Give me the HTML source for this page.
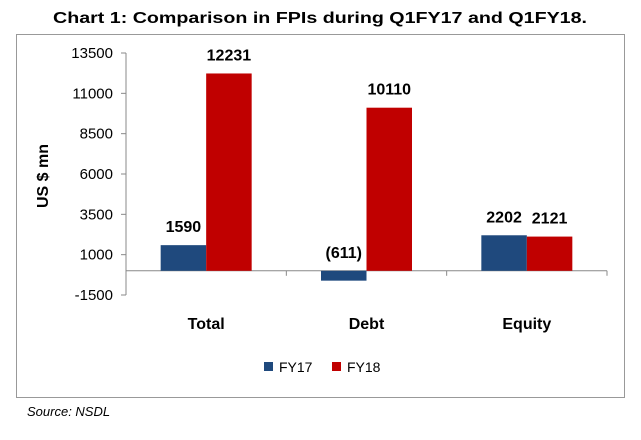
<!DOCTYPE html>
<html><head><meta charset="utf-8"><style>
body{margin:0;background:#fff;}
svg{display:block;font-family:"Liberation Sans",sans-serif;}
</style></head><body>
<svg id="chart" width="641" height="440" viewBox="0 0 641 440">
<text x="320" y="23" text-anchor="middle" font-size="16" font-weight="bold" textLength="534" lengthAdjust="spacingAndGlyphs" fill="#000">Chart 1: Comparison in FPIs during Q1FY17 and Q1FY18.</text>
<rect x="16.5" y="34.5" width="608" height="363" fill="none" stroke="#999" stroke-width="1"/>
<g id="axes"></g>
<g id="bars"></g>
<text transform="translate(48,176) rotate(-90)" text-anchor="middle" font-size="16" font-weight="bold">US $ mn</text>
<rect x="264" y="362" width="9" height="9" fill="#1f497d"/>
<text x="279" y="372" font-size="14">FY17</text>
<rect x="332" y="362" width="9" height="9" fill="#c00000"/>
<text x="347" y="372" font-size="14">FY18</text>
<text x="27" y="416" font-size="13" font-style="italic">Source: NSDL</text>
</svg>
<script>
const categories=["Total","Debt","Equity"];
const fy17=[1590,-611,2202];
const fy18=[12231,10110,2121];
const fy17Labels=["1590","(611)","2202"];
const fy18Labels=["12231","10110","2121"];
const yTicks=[13500,11000,8500,6000,3500,1000,-1500];
const NS="http://www.w3.org/2000/svg";
const x0=126,x1=607,yMin=-1500,yMax=13500,pyTop=53,pyBot=295;
function y(v){return pyBot-(v-yMin)/(yMax-yMin)*(pyBot-pyTop);}
const cw=(x1-x0)/categories.length;
function mk(tag,attrs,parent){const e=document.createElementNS(NS,tag);for(const k in attrs)e.setAttribute(k,attrs[k]);parent.appendChild(e);return e;}
const axes=document.getElementById('axes'),bars=document.getElementById('bars');
let a=mk('line',{x1:x0,y1:pyTop,x2:x0,y2:pyBot,stroke:'#888'},axes);


yTicks.forEach(t=>{
 let l=mk('line',{x1:x0-5,y1:y(t),x2:x0,y2:y(t),stroke:'#888'},axes);
 
 
 let tx=mk('text',{x:x0-13,y:y(t)+5,'text-anchor':'end','font-size':'15'},axes);
 tx.textContent=t;
 
 
});
let xa=mk('line',{x1:x0,y1:y(0),x2:x1,y2:y(0),stroke:'#888'},axes);


for(let i=0;i<=categories.length;i++){
 let l=mk('line',{x1:x0+i*cw,y1:y(0),x2:x0+i*cw,y2:y(0)+5,stroke:'#888'},axes);
 
 
}
const bw=45.5;
categories.forEach((c,i)=>{
 const cx=x0+cw*(i+0.5);
 let ct=mk('text',{x:cx,y:329,'text-anchor':'middle','font-size':'16','font-weight':'bold'},axes);
 ct.textContent=c;
 
 
 [[fy17,fy17Labels,'#1f497d','fy17'],[fy18,fy18Labels,'#c00000','fy18']].forEach(([arr,labs,col,nm],j)=>{
  const v=arr[i];const bx=cx-bw+j*bw;
  const top=Math.min(y(v),y(0)),h=Math.abs(y(v)-y(0));
  let r=mk('rect',{x:bx,y:top,width:bw,height:h,fill:col},bars);
  
  
  const ly=(v>=0?y(v):y(0))-13;
  let t=mk('text',{x:bx+bw/2,y:ly,'text-anchor':'middle','font-size':'16','font-weight':'bold'},bars);
  t.textContent=labs[i];
  
  
 });
});
</script>
</body></html>
